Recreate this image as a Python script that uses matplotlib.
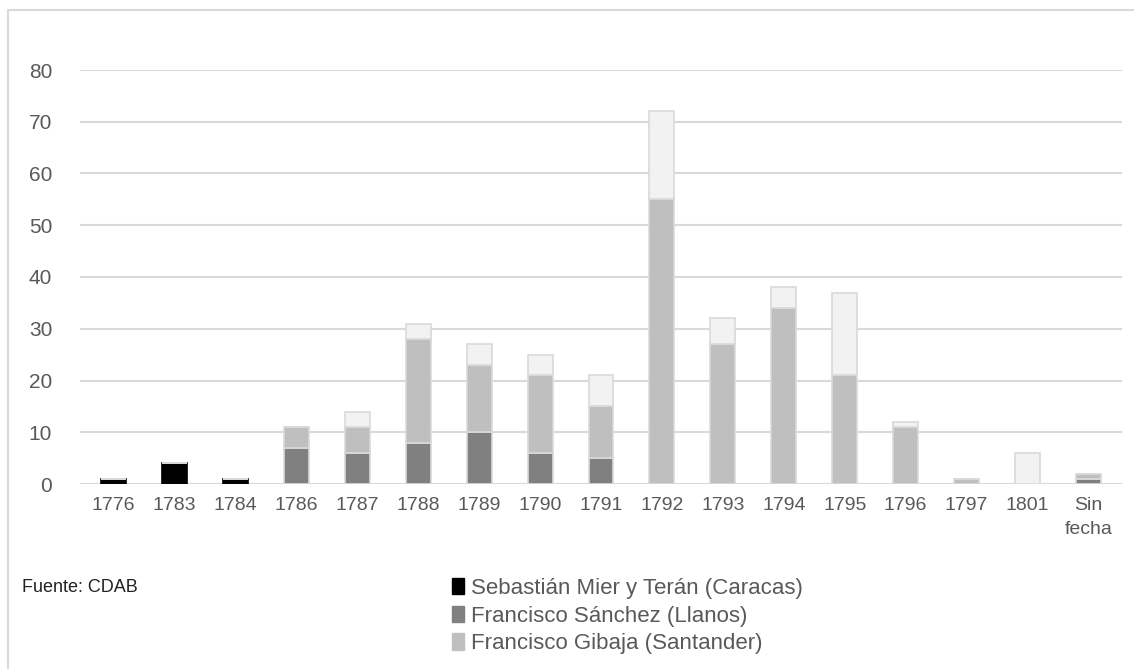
import numpy as np
import matplotlib
matplotlib.use('Agg')
import matplotlib.pyplot as plt
from matplotlib.patches import Rectangle, Patch

plt.rcParams['font.family'] = ['Liberation Sans Narrow', 'Liberation Sans', 'DejaVu Sans']

years = ['1776', '1783', '1784', '1786', '1787', '1788', '1789', '1790', '1791',
         '1792', '1793', '1794', '1795', '1796', '1797', '1801', 'Sin\nfecha']
mier = [1, 4, 1, 0, 0, 0, 0, 0, 0, 0, 0, 0, 0, 0, 0, 0, 0]
sanchez = [0, 0, 0, 7, 6, 8, 10, 6, 5, 0, 0, 0, 0, 0, 0, 0, 1]
gibaja = [0, 0, 0, 4, 5, 20, 13, 15, 10, 55, 27, 34, 21, 11, 1, 0, 1]
otros = [0, 0, 0, 0, 3, 3, 4, 4, 6, 17, 5, 4, 16, 1, 0, 6, 0]

labels = ['Sebastián Mier y Terán (Caracas)', 'Francisco Sánchez (Llanos)',
          'Francisco Gibaja (Santander)']
colors = ['#000000', '#808080', '#BFBFBF', '#F2F2F2']
edges = ['#000000', '#D9D9D9', '#D9D9D9', '#D9D9D9']
txt = '#595959'

fig = plt.figure(figsize=(11.34, 6.69), dpi=100)
ax = fig.add_axes([80/1134, 1 - 484/669, 1042/1134, 414/669])

x = np.arange(len(years))
w = 0.41
bottom = np.zeros(len(years))
for vals, c, e in zip([mier, sanchez, gibaja, otros], colors, edges):
    v = np.array(vals, dtype=float)
    ax.bar(x, v, w, bottom=bottom, color=c, edgecolor=e, linewidth=1.2, zorder=3)
    bottom += v

ax.set_ylim(0, 80)
ax.set_xlim(-0.55, len(years) - 0.45)
ax.set_yticks(range(0, 81, 10))
ax.set_xticks(x)
ax.set_xticklabels(years, linespacing=1.6, va='top')
ax.grid(axis='y', color='#D9D9D9', linewidth=1.5, zorder=0)
for s in ax.spines.values():
    s.set_visible(False)
ax.tick_params(length=0, labelsize=14, colors=txt)
ax.tick_params(axis='y', pad=20, labelsize=15)
ax.tick_params(axis='x', pad=9)

handles = [Patch(color=c) for c in colors[:3]]
fig.legend(handles, labels, loc='upper left', bbox_to_anchor=(432/1134, 1 - 558/669),
           frameon=False, fontsize=16, labelcolor=txt, handlelength=0.55,
           handleheight=0.75, handletextpad=0.3, labelspacing=0.3)

fig.text(22/1134, 1 - 592/669, 'Fuente: CDAB', fontsize=13, color='#222222')

fig.patches.append(Rectangle((8/1134, -0.1), 1.2, 1 - 10/669 + 0.1,
                             transform=fig.transFigure, fill=False,
                             edgecolor='#D9D9D9', linewidth=1.5))

fig.savefig('out.png', dpi=100)
